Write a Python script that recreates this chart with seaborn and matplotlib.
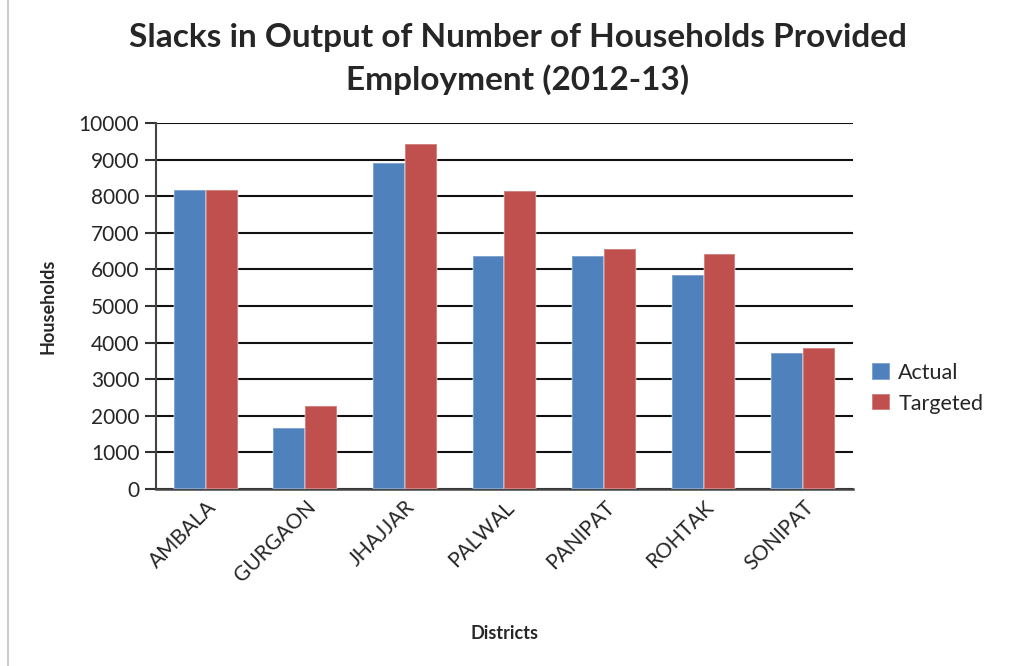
import matplotlib
matplotlib.use("Agg")
import matplotlib.pyplot as plt
import seaborn as sns
import pandas as pd
from matplotlib.lines import Line2D

districts = ["AMBALA", "GURGAON", "JHAJJAR", "PALWAL", "PANIPAT", "ROHTAK", "SONIPAT"]
actual = [8160, 1660, 8900, 6380, 6380, 5860, 3710]
targeted = [8160, 2270, 9420, 8140, 6560, 6430, 3860]
series_names = ["Actual", "Targeted"]
colors = ["#4F81BD", "#C0504D"]
yticks = list(range(0, 10001, 1000))

df = pd.DataFrame({
    "District": districts * 2,
    "Households": actual + targeted,
    "Series": [series_names[0]] * len(districts) + [series_names[1]] * len(districts),
})

sns.set_theme(style="white")
plt.rcParams['font.family'] = ['Lato', 'DejaVu Sans']

fig = plt.figure(figsize=(10.13, 6.66), dpi=100)
ax = fig.add_axes([0.154, 0.266, 0.688, 0.549])

sns.barplot(data=df, x="District", y="Households", hue="Series",
            palette=colors, width=0.64, ax=ax, saturation=1,
            edgecolor="none", linewidth=0, zorder=3)

for patch in ax.patches:
    patch.set_edgecolor((1, 1, 1, 0.35))
    patch.set_linewidth(1.2)

ax.set_ylim(0, 10000)
ax.set_xlim(-0.5, len(districts) - 0.5)
ax.set_yticks(yticks)
ax.set_yticklabels([str(t) for t in yticks], fontsize=15)
ax.yaxis.grid(True, color="#111111", linewidth=1.5, zorder=0)
ax.set_axisbelow(True)

ax.tick_params(axis="y", which="major", direction="out", length=8, width=1.5,
               color="#333333", left=True, pad=4)
ax.tick_params(axis="x", length=0, pad=6)
plt.setp(ax.get_xticklabels(), rotation=45, ha="right", rotation_mode="anchor", fontsize=15)

for s in ["top", "right"]:
    ax.spines[s].set_visible(False)
ax.spines["left"].set_color("#444444")
ax.spines["left"].set_linewidth(1.5)
ax.spines["bottom"].set_color("#444444")
ax.spines["bottom"].set_linewidth(1.8)

ax.set_xlabel("Districts", fontsize=13, fontweight="bold", labelpad=28)
ax.set_ylabel("Households", fontsize=13, fontweight="bold", labelpad=16)

fig.suptitle("Slacks in Output of Number of Households Provided\nEmployment (2012-13)",
             fontsize=24, fontweight="bold", x=0.511, y=0.965, linespacing=1.45)

leg = ax.legend(loc="center left", bbox_to_anchor=(1.0, 0.275), frameon=False,
                fontsize=15.5, handlelength=0.8, handleheight=0.8, handletextpad=0.4,
                labelspacing=0.5)

fig.add_artist(Line2D([0.008, 0.008], [0.0, 1.0], color="#cccccc", linewidth=1.5))

fig.savefig("out.png", dpi=100, facecolor="white")
